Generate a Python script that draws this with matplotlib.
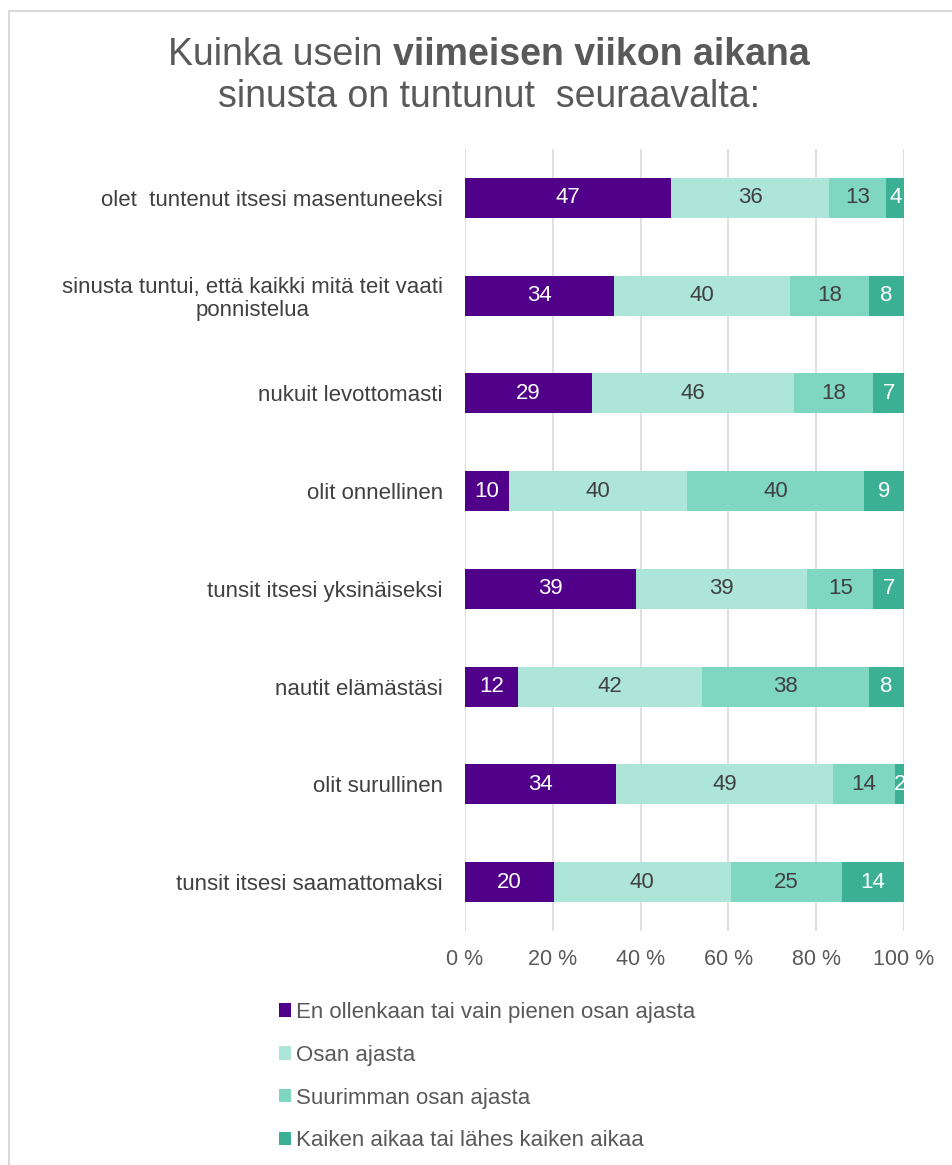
import numpy as np
import matplotlib.pyplot as plt
from matplotlib.patches import Rectangle

plt.rcParams['font.family'] = ['Liberation Sans', 'DejaVu Sans']

# Data
categories = ["olet  tuntenut itsesi masentuneeksi",
              "sinusta tuntui, että kaikki mitä teit vaati\nponnistelua",
              "nukuit levottomasti",
              "olit onnellinen",
              "tunsit itsesi yksinäiseksi",
              "nautit elämästäsi",
              "olit surullinen",
              "tunsit itsesi saamattomaksi"]
series_names = ["En ollenkaan tai vain pienen osan ajasta",
                "Osan ajasta",
                "Suurimman osan ajasta",
                "Kaiken aikaa tai lähes kaiken aikaa"]
en_ollenkaan = [47, 34, 29, 10, 39, 12, 34, 20]
osan_ajasta = [36, 40, 46, 40, 39, 42, 49, 40]
suurimman = [13, 18, 18, 40, 15, 38, 14, 25]
kaiken = [4, 8, 7, 9, 7, 8, 2, 14]
xticks = [0, 20, 40, 60, 80, 100]

colors = ["#51008a", "#ade5d9", "#7fd6c1", "#3bb095"]
text_colors = ["white", "#404040", "#404040", "white"]

values = np.array([en_ollenkaan, osan_ajasta, suurimman, kaiken], dtype=float)
shares = values / values.sum(axis=0) * 100

W, H = 953, 1165
fs = 16
fig = plt.figure(figsize=(W / 100, H / 100), dpi=100)
ax = fig.add_axes([465 / W, 1 - 931 / H, (904 - 465) / W, (931 - 149) / H])

y = np.arange(len(categories))
left = np.zeros(len(categories))
for i in range(4):
    bars = ax.barh(y, shares[i], left=left, height=0.41, color=colors[i],
                   label=series_names[i], zorder=3)
    for b, v, s, l in zip(bars, values[i], shares[i], left):
        ax.text(l + s / 2, b.get_y() + b.get_height() / 2, f"{v:.0f}",
                ha='center', va='center', color=text_colors[i], fontsize=fs,
                zorder=4)
    left += shares[i]

ax.set_xlim(0, 100)
ax.set_ylim(len(categories) - 0.5, -0.5)
ax.set_yticks(y)
ax.set_yticklabels(categories, fontsize=fs, color="#404040", multialignment='center',
                   linespacing=1.1)
ax.set_xticks(xticks)
ax.set_xticklabels([f"{t} %" for t in xticks], fontsize=15.5, color="#595959")
ax.tick_params(length=0)
ax.tick_params(axis='y', pad=16)
ax.tick_params(axis='x', pad=13)
ax.grid(axis='x', color="#d9d9d9", linewidth=1.2, zorder=0)
for s in ax.spines.values():
    s.set_visible(False)

# title with bold middle part
fig.canvas.draw()
r = fig.canvas.get_renderer()
parts = [("Kuinka usein ", 'normal'), ("viimeisen viikon aikana", 'bold')]
tsize = 27
objs = [fig.text(0, 1 - 55 / H, t, fontsize=tsize, fontweight=w, color="#595959",
                 va='center', ha='left') for t, w in parts]
widths = [o.get_window_extent(r).width for o in objs]
x0 = (489 - sum(widths) / 2)
for o, wd in zip(objs, widths):
    o.set_x(x0 / W)
    x0 += wd
fig.text(489 / W, 1 - 97 / H, "sinusta on tuntunut  seuraavalta:", fontsize=tsize,
         color="#595959", ha='center', va='center')

fig.legend(loc='upper left', bbox_to_anchor=(259 / W, 1 - 982 / H), frameon=False,
           fontsize=fs, handlelength=0.55, handleheight=0.55, handletextpad=0.2,
           labelspacing=0.98, labelcolor="#595959")

# chart border
fig.patches.append(Rectangle((9 / W, -0.1), 1.2, 1 - 11 / H + 0.1, transform=fig.transFigure,
                             fill=False, edgecolor="#d9d9d9", linewidth=1.5))

fig.savefig("out.png", dpi=100)
